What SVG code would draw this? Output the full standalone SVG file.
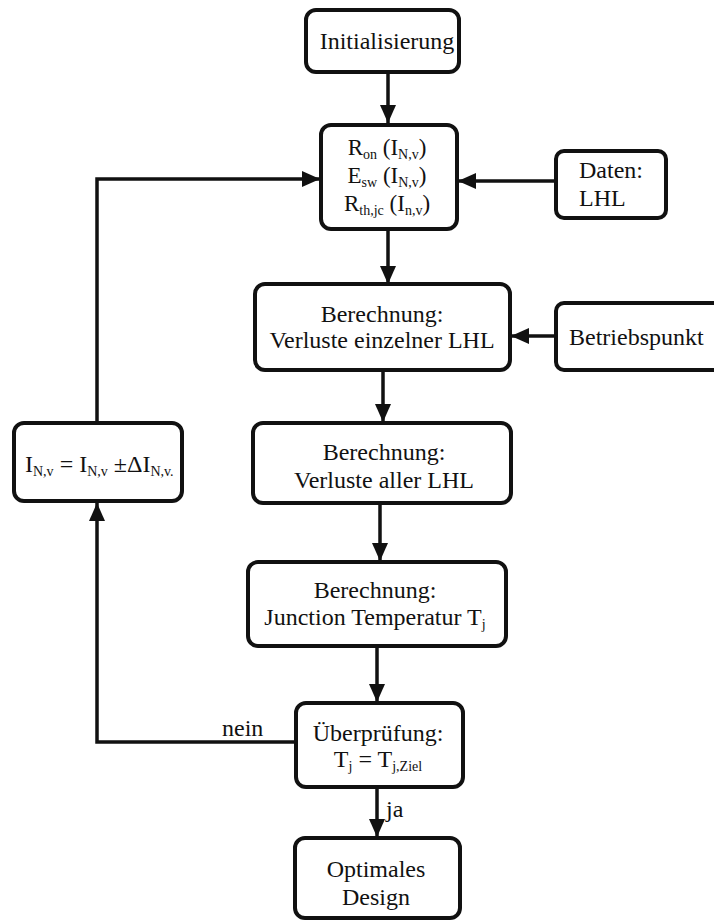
<svg xmlns="http://www.w3.org/2000/svg" width="714" height="923" viewBox="0 0 714 923">
<style>
.box{fill:#fff;stroke:#111;stroke-width:4}
.t{font-family:'Liberation Serif','DejaVu Serif',serif;font-size:24px;fill:#111}
.c{text-anchor:middle}
.s{font-size:14px}
.m{font-size:23px}
.con{fill:none;stroke:#111;stroke-width:3.5}
</style>
<defs>
<marker id="ah" markerUnits="userSpaceOnUse" markerWidth="20" markerHeight="20" viewBox="0 0 20 20" refX="19" refY="10" orient="auto">
<path d="M1 2 L19 10 L1 18 Z" fill="#111"/>
</marker>
</defs>
<rect width="714" height="923" fill="#fff"/>
<g id="connectors">
<line class="con" x1="388" y1="72" x2="388" y2="123" marker-end="url(#ah)"/>
<line class="con" x1="555" y1="181" x2="458" y2="181" marker-end="url(#ah)"/>
<path class="con" d="M97 422 V179 H320" marker-end="url(#ah)"/>
<line class="con" x1="388" y1="229" x2="388" y2="284" marker-end="url(#ah)"/>
<line class="con" x1="555" y1="336" x2="511" y2="336" marker-end="url(#ah)"/>
<line class="con" x1="383" y1="370" x2="383" y2="422" marker-end="url(#ah)"/>
<line class="con" x1="380" y1="503" x2="380" y2="561" marker-end="url(#ah)"/>
<line class="con" x1="377" y1="646" x2="377" y2="702" marker-end="url(#ah)"/>
<path class="con" d="M296 742 H97 V503" marker-end="url(#ah)"/>
<line class="con" x1="377" y1="788" x2="377" y2="837" marker-end="url(#ah)"/>
<text class="t" x="222" y="736">nein</text>
<text class="t" x="386" y="817">ja</text>
</g>
<g id="init">
<rect class="box" x="306" y="10" width="153" height="62" rx="10"/>
<text class="t c" x="387" y="49">Initialisierung</text>
</g>
<g id="params">
<rect class="box" x="321" y="125" width="136" height="104" rx="10"/>
<text class="t m c" x="387" y="155">R<tspan class="s" dy="4">on</tspan><tspan dy="-4"> (I</tspan><tspan class="s" dy="4">N,v</tspan><tspan dy="-4">)</tspan></text>
<text class="t m c" x="387" y="183">E<tspan class="s" dy="4">sw</tspan><tspan dy="-4"> (I</tspan><tspan class="s" dy="4">N,v</tspan><tspan dy="-4">)</tspan></text>
<text class="t m c" x="387" y="211">R<tspan class="s" dy="4">th,jc</tspan><tspan dy="-4"> (I</tspan><tspan class="s" dy="4">n,v</tspan><tspan dy="-4">)</tspan></text>
</g>
<g id="daten">
<rect class="box" x="556" y="151" width="110" height="67" rx="8"/>
<text class="t" x="579" y="178">Daten:</text>
<text class="t" x="579" y="206">LHL</text>
</g>
<g id="ber1">
<rect class="box" x="255" y="284" width="255" height="86" rx="10"/>
<text class="t c" x="382" y="322">Berechnung:</text>
<text class="t c" x="382" y="348">Verluste einzelner LHL</text>
</g>
<g id="betriebspunkt">
<rect class="box" x="556" y="303" width="170" height="67" rx="8"/>
<text class="t" x="569" y="345">Betriebspunkt</text>
</g>
<g id="ber2">
<rect class="box" x="253" y="423" width="258" height="80" rx="10"/>
<text class="t c" x="384" y="460">Berechnung:</text>
<text class="t c" x="384" y="488">Verluste aller LHL</text>
</g>
<g id="update">
<rect class="box" x="14" y="423" width="168" height="78" rx="10"/>
<text class="t" x="25" y="472">I<tspan class="s" dy="4">N,v</tspan><tspan dy="-4"> = I</tspan><tspan class="s" dy="4">N,v</tspan><tspan dy="-4"> ±ΔI</tspan><tspan class="s" dy="4">N,v.</tspan></text>
</g>
<g id="ber3">
<rect class="box" x="248" y="562" width="258" height="84" rx="10"/>
<text class="t c" x="375" y="598">Berechnung:</text>
<text class="t c" x="375" y="625">Junction Temperatur T<tspan class="s" dy="4">j</tspan></text>
</g>
<g id="check">
<rect class="box" x="296" y="703" width="167" height="84" rx="10"/>
<text class="t c" x="378" y="741">Überprüfung:</text>
<text class="t c" x="378" y="767">T<tspan class="s" dy="4">j</tspan><tspan dy="-4"> = T</tspan><tspan class="s" dy="4">j,Ziel</tspan></text>
</g>
<g id="optimal">
<rect class="box" x="295" y="838" width="165" height="80" rx="10"/>
<text class="t c" x="376" y="877">Optimales</text>
<text class="t c" x="376" y="905">Design</text>
</g>
</svg>
